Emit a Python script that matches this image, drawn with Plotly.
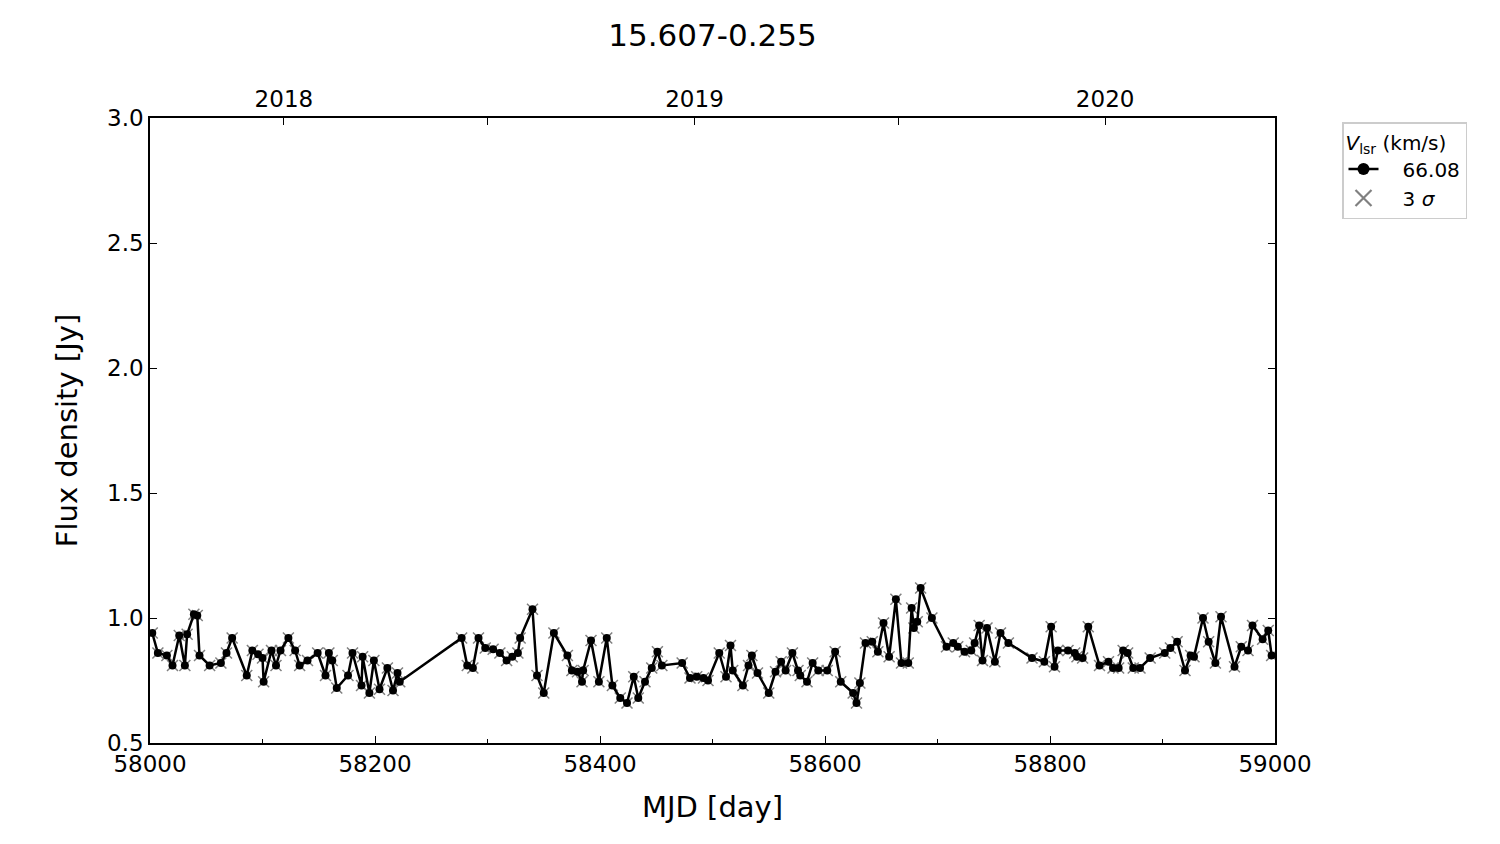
import plotly.graph_objects as go

title_text = "15.607-0.255"
series_name = "66.08"

mjd = [58002, 58007, 58015, 58020, 58026, 58031, 58033, 58039, 58042, 58044,
       58053, 58063, 58068, 58073, 58086, 58091, 58096, 58100, 58101, 58108,
       58112, 58116, 58123, 58129, 58133, 58140, 58149, 58156, 58159, 58162,
       58166, 58176, 58180, 58188, 58189, 58195, 58199, 58204, 58211, 58216,
       58220, 58222, 58277, 58282, 58287, 58292, 58298, 58305, 58311, 58317,
       58322, 58327, 58329, 58340, 58344, 58350, 58359, 58371, 58375, 58380,
       58384, 58385, 58392, 58399, 58406, 58411, 58418, 58424, 58430, 58434,
       58440, 58446, 58451, 58455, 58473, 58480, 58486, 58492, 58496, 58506,
       58512, 58516, 58518, 58527, 58532, 58535, 58540, 58550, 58556, 58561,
       58565, 58571, 58576, 58578, 58584, 58589, 58594, 58602, 58609, 58614,
       58625, 58628, 58631, 58636, 58642, 58647, 58652, 58657, 58663, 58668,
       58674, 58677, 58679, 58682, 58685, 58695, 58708, 58714, 58718, 58724,
       58730, 58733, 58737, 58740, 58744, 58751, 58756, 58763, 58784, 58795,
       58801, 58804, 58807, 58816, 58822, 58824, 58829, 58834, 58844, 58852,
       58856, 58861, 58865, 58869, 58874, 58880, 58889, 58902, 58907, 58913,
       58920, 58925, 58928, 58936, 58941, 58947, 58952, 58964, 58970, 58976,
       58980, 58989, 58994, 58997]

flux = [0.94, 0.86, 0.85, 0.81, 0.93, 0.81, 0.935, 1.015, 1.01, 0.85,
        0.81, 0.82, 0.86, 0.92, 0.77, 0.87, 0.855, 0.84, 0.745, 0.87,
        0.81, 0.87, 0.92, 0.87, 0.81, 0.83, 0.86, 0.77, 0.86, 0.83,
        0.72, 0.77, 0.86, 0.73, 0.845, 0.70, 0.83, 0.715, 0.80, 0.71,
        0.78, 0.745, 0.92, 0.81, 0.80, 0.92, 0.88, 0.875, 0.86, 0.83,
        0.845, 0.86, 0.92, 1.035, 0.77, 0.70, 0.94, 0.85, 0.79, 0.785,
        0.745, 0.79, 0.91, 0.745, 0.92, 0.73, 0.68, 0.66, 0.765, 0.68,
        0.745, 0.80, 0.865, 0.81, 0.82, 0.76, 0.765, 0.76, 0.75, 0.86,
        0.765, 0.89, 0.79, 0.73, 0.81, 0.85, 0.78, 0.70, 0.785, 0.825,
        0.79, 0.86, 0.79, 0.77, 0.745, 0.82, 0.79, 0.79, 0.865, 0.745,
        0.70, 0.66, 0.74, 0.90, 0.905, 0.865, 0.98, 0.845, 1.075, 0.82,
        0.82, 1.04, 0.96, 0.985, 1.12, 1.00, 0.885, 0.90, 0.885, 0.865,
        0.87, 0.90, 0.97, 0.83, 0.96, 0.825, 0.94, 0.90, 0.84, 0.825,
        0.965, 0.805, 0.87, 0.87, 0.86, 0.845, 0.84, 0.965, 0.81, 0.825,
        0.80, 0.80, 0.87, 0.86, 0.80, 0.80, 0.84, 0.86, 0.88, 0.905,
        0.79, 0.85, 0.845, 1.00, 0.905, 0.82, 1.005, 0.805, 0.885, 0.87,
        0.97, 0.915, 0.95, 0.85]

year_mjd = [58119, 58484, 58849]
year_labels = ["2018", "2019", "2020"]
midyear_mjd = [58300, 58665]

x_ticks = [58000, 58200, 58400, 58600, 58800, 59000]
x_tick_labels = ["58000", "58200", "58400", "58600", "58800", "59000"]
y_ticks = [0.5, 1.0, 1.5, 2.0, 2.5, 3.0]
y_tick_labels = ["0.5", "1.0", "1.5", "2.0", "2.5", "3.0"]

FONT = "DejaVu Sans"
W, H = 1492, 836   # page body adds an 8px offset
L, T = 142, 110
PW, PH = 1125, 625
NB = "\u00a0"

fig = go.Figure()

# 3 sigma markers (plot)
fig.add_trace(go.Scatter(
    x=mjd, y=flux, mode="markers", showlegend=False,
    marker=dict(symbol="x-thin", size=11, color="rgba(0,0,0,0)",
                line=dict(color="gray", width=1.5)),
))
# main series (plot)
fig.add_trace(go.Scatter(
    x=mjd, y=flux, mode="lines+markers", showlegend=False,
    line=dict(color="black", width=2.5),
    marker=dict(symbol="circle", size=8, color="black"),
))
# legend-only entries with larger symbols
fig.add_trace(go.Scatter(
    x=[None], y=[None], mode="lines+markers", name=NB * 3 + series_name,
    line=dict(color="black", width=2.5),
    marker=dict(symbol="circle", size=12, color="black"),
    legendrank=1,
))
fig.add_trace(go.Scatter(
    x=[None], y=[None], mode="markers", name=NB * 3 + "3 <i>σ</i>",
    marker=dict(symbol="x-thin", size=16, color="rgba(0,0,0,0)",
                line=dict(color="gray", width=2.2)),
    legendrank=2,
))
# invisible traces for top / right axes
fig.add_trace(go.Scatter(x=[58000, 59000], y=[None, None], xaxis="x2",
                         showlegend=False, hoverinfo="skip"))
fig.add_trace(go.Scatter(x=[None, None], y=[0.5, 3.0], yaxis="y2",
                         showlegend=False, hoverinfo="skip"))

tickfont = dict(family=FONT, size=23, color="black")
axis_common = dict(showline=True, linecolor="black", linewidth=1.5,
                   ticks="inside", tickcolor="black", tickwidth=1.2,
                   showgrid=False, zeroline=False, tickfont=tickfont)
title_font = dict(family=FONT, size=29, color="black")

fig.update_layout(
    width=W, height=H,
    paper_bgcolor="white", plot_bgcolor="white",
    margin=dict(l=L, r=W - L - PW, t=T, b=H - T - PH, autoexpand=False),
    title=dict(text=title_text, x=(L + PW / 2) / W, xanchor="center",
               y=1 - 27 / H, yanchor="middle",
               font=dict(family=FONT, size=31, color="black")),
    xaxis=dict(range=[58000, 59000], tickvals=x_ticks, ticktext=x_tick_labels,
               ticklen=7,
               minor=dict(tickvals=[58100, 58300, 58500, 58700, 58900],
                          ticks="inside", ticklen=4, tickcolor="black"),
               title=dict(text="MJD [day]", standoff=20, font=title_font),
               **axis_common),
    xaxis2=dict(range=[58000, 59000], overlaying="x", side="top",
                tickvals=year_mjd, ticktext=year_labels, ticklen=7,
                minor=dict(tickvals=midyear_mjd, ticks="inside", ticklen=7,
                           tickcolor="black"),
                **axis_common),
    yaxis=dict(range=[0.5, 3.0], tickvals=y_ticks, ticktext=y_tick_labels,
               ticklen=7,
               title=dict(text="Flux density [Jy]", standoff=21, font=title_font),
               **axis_common),
    yaxis2=dict(range=[0.5, 3.0], overlaying="y", side="right",
                tickvals=y_ticks, ticklen=7, showticklabels=False,
                **axis_common),
    legend=dict(x=(1342 - 8 - L) / PW, y=1 - (122 - 8 - T) / PH,
                xanchor="left", yanchor="top",
                bordercolor="#cccccc", borderwidth=1.5, bgcolor="white",
                font=dict(family=FONT, size=20, color="black"),
                title=dict(text="<i>V</i><sub>lsr</sub> (km/s)",
                           font=dict(family=FONT, size=20, color="black")),
                itemsizing="trace", tracegroupgap=0),
    showlegend=True,
)

fig.write_html("out.html")
